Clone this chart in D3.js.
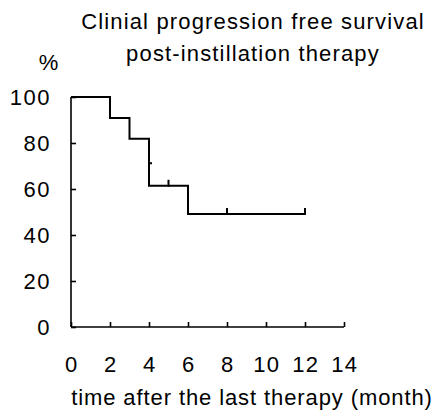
<!DOCTYPE html>
<html>
<head>
<meta charset="utf-8">
<script src="https://cdn.jsdelivr.net/npm/d3@7"></script>
<style>
  body { margin: 0; background: #fff; }
  svg text { font-family: "Liberation Sans", Arial, sans-serif; fill: #000; font-size: 22px; }
</style>
</head>
<body>
<script>
// Kaplan-Meier steps: time (month) and survival (%)
const stepTimes = [0, 2, 3, 4, 6, 12];
const stepValues = [100, 90.9, 81.8, 61.4, 49.1, 49.1];
// censored observations
const censorTimes = [4, 5, 8, 12];
const censorValues = [71.2, 61.4, 49.1, 49.1];

const xTicks = [0, 2, 4, 6, 8, 10, 12, 14];
const yTicks = [0, 20, 40, 60, 80, 100];

const W = 438, H = 412;
const svg = d3.select("body").append("svg")
  .attr("width", W)
  .attr("height", H);

const x = d3.scaleLinear().domain([0, 14]).range([71, 344]);
const y = d3.scaleLinear().domain([0, 100]).range([327, 97]);

// axes, ticks pointing inside
svg.append("g")
  .attr("transform", "translate(71,0)")
  .call(d3.axisRight(y).tickValues(yTicks).tickSize(5).tickFormat(""));
svg.append("g")
  .attr("transform", "translate(0,327)")
  .call(d3.axisTop(x).tickValues(xTicks).tickSize(5).tickFormat(""));
svg.selectAll(".domain").remove();
svg.selectAll(".tick line").attr("stroke", "#000").attr("stroke-width", 1.6);

svg.append("line")
  .attr("x1", x(0)).attr("x2", x(0))
  .attr("y1", y(100)).attr("y2", y(0))
  .attr("stroke", "#000").attr("stroke-width", 1.6);
svg.append("line")
  .attr("x1", x(0)).attr("x2", x(14))
  .attr("y1", y(0)).attr("y2", y(0))
  .attr("stroke", "#000").attr("stroke-width", 1.6);

// tick labels
svg.append("g").selectAll("text")
  .data(yTicks)
  .join("text")
  .attr("x", 51)
  .attr("y", d => y(d) + 7.5)
  .attr("text-anchor", "end")
  .style("letter-spacing", "1.5px")
  .text(d => d);

svg.append("g").selectAll("text")
  .data(xTicks)
  .join("text")
  .attr("x", d => x(d) + 0.7)
  .attr("y", 372)
  .attr("text-anchor", "middle")
  .style("letter-spacing", "1.2px")
  .text(d => d);

// survival curve
const stepData = stepTimes.map((t, i) => ({ t: t, v: stepValues[i] }));
svg.append("path")
  .datum(stepData)
  .attr("fill", "none")
  .attr("stroke", "#000")
  .attr("stroke-width", 2)
  .attr("d", d3.line()
    .x(d => x(d.t))
    .y(d => y(d.v))
    .curve(d3.curveStepAfter));

// censor marks (a small notch when it sits on a drop)
const censorData = censorTimes.map((t, i) => ({ t: t, v: censorValues[i], onDrop: t === 4 }));
svg.append("g").selectAll("line")
  .data(censorData)
  .join("line")
  .attr("x1", d => x(d.t))
  .attr("x2", d => d.onDrop ? x(d.t) + 3 : x(d.t))
  .attr("y1", d => d.onDrop ? y(d.v) : y(d.v) - 6)
  .attr("y2", d => d.onDrop ? y(d.v) : y(d.v) + 1)
  .attr("stroke", "#000")
  .attr("stroke-width", 2);

// titles
svg.append("text")
  .attr("x", 253).attr("y", 29)
  .attr("text-anchor", "middle")
  .style("letter-spacing", "1.15px")
  .text("Clinial progression free survival");
svg.append("text")
  .attr("x", 253).attr("y", 61)
  .attr("text-anchor", "middle")
  .style("letter-spacing", "1.15px")
  .text("post-instillation therapy");
svg.append("text")
  .attr("x", 48.5).attr("y", 70)
  .attr("text-anchor", "middle")
  .text("%");
svg.append("text")
  .attr("x", 252).attr("y", 405)
  .attr("text-anchor", "middle")
  .style("letter-spacing", "0.9px")
  .text("time after the last therapy (month)");
</script>
</body>
</html>
